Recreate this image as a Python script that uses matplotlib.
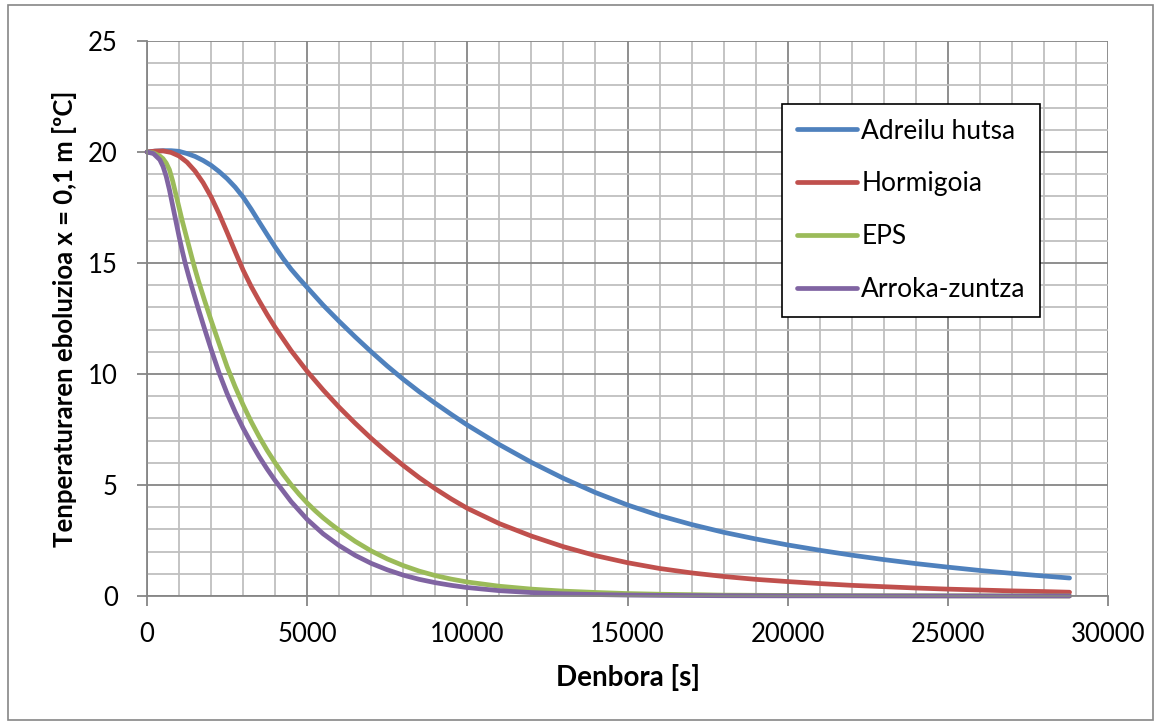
import numpy as np
import matplotlib.pyplot as plt
from matplotlib.patches import Rectangle
from matplotlib.ticker import MultipleLocator

plt.rcParams['font.family'] = ['Lato', 'DejaVu Sans']

# Temperature at x = 0.1 m over time, for four wall materials
t_adreilu = [0, 250, 500, 750, 1000, 1250, 1500, 1750, 2000, 2250, 2500, 2750, 3000, 3250,
             3500, 3750, 4000, 4250, 4500, 4750, 5000, 5500, 6000, 6500, 7000, 7500, 8000,
             8500, 9000, 9500, 10000, 11000, 12000, 13000, 14000, 15000, 16000, 17000,
             18000, 19000, 20000, 21000, 22000, 23000, 24000, 25000, 26000, 27000, 28000, 28800]
T_adreilu = [20.0, 20.04, 20.06, 20.06, 20.03, 19.93, 19.8, 19.62, 19.4, 19.12, 18.8, 18.42, 17.97, 17.43,
             16.85, 16.28, 15.72, 15.2, 14.72, 14.3, 13.9, 13.1, 12.37, 11.67, 11.0, 10.36, 9.76,
             9.2, 8.68, 8.18, 7.7, 6.82, 6.02, 5.3, 4.66, 4.1, 3.62, 3.22,
             2.87, 2.57, 2.3, 2.06, 1.84, 1.64, 1.46, 1.3, 1.15, 1.02, 0.9, 0.81]

t_hormigoia = [0, 250, 500, 750, 1000, 1250, 1500, 1750, 2000, 2250, 2500, 2750, 3000, 3250,
               3500, 3750, 4000, 4500, 5000, 5500, 6000, 6500, 7000, 7500, 8000, 8500, 9000,
               9500, 10000, 11000, 12000, 13000, 14000, 15000, 16000, 17000, 18000, 19000,
               20000, 21000, 22000, 23000, 24000, 25000, 26000, 27000, 28000, 28800]
T_hormigoia = [20.0, 20.04, 20.05, 19.98, 19.82, 19.54, 19.14, 18.62, 17.98, 17.22, 16.38, 15.52, 14.68, 13.95,
               13.3, 12.68, 12.1, 11.05, 10.12, 9.28, 8.5, 7.78, 7.1, 6.47, 5.88, 5.33, 4.83,
               4.37, 3.95, 3.26, 2.7, 2.22, 1.82, 1.5, 1.24, 1.04, 0.88, 0.75,
               0.65, 0.56, 0.48, 0.42, 0.36, 0.31, 0.27, 0.23, 0.2, 0.17]

t_eps = [0, 200, 400, 500, 600, 700, 800, 900, 1000, 1100, 1200, 1300, 1400, 1500, 1600, 1800,
         2000, 2250, 2500, 2750, 3000, 3250, 3500, 3750, 4000, 4250, 4500, 4750, 5000, 5250,
         5500, 5750, 6000, 6500, 7000, 7500, 8000, 8500, 9000, 9500, 10000, 11000, 12000,
         13000, 14000, 15000, 16000, 17000, 18000, 20000, 22000, 24000, 26000, 28800]
T_eps = [20.0, 19.96, 19.82, 19.7, 19.5, 19.2, 18.7, 18.1, 17.5, 16.9, 16.35, 15.8, 15.25, 14.72, 14.22, 13.3,
         12.42, 11.37, 10.33, 9.43, 8.61, 7.86, 7.18, 6.56, 6.0, 5.48, 5.01, 4.58, 4.19, 3.84,
         3.52, 3.23, 2.96, 2.46, 2.03, 1.67, 1.37, 1.12, 0.92, 0.76, 0.63, 0.44, 0.31,
         0.22, 0.16, 0.11, 0.08, 0.06, 0.04, 0.025, 0.015, 0.01, 0.005, 0.0]

t_arroka = [0, 200, 400, 500, 600, 700, 800, 900, 1000, 1100, 1200, 1300, 1400, 1500, 1600, 1800,
            2000, 2250, 2500, 2750, 3000, 3250, 3500, 3750, 4000, 4500, 5000, 5500, 6000, 6500,
            7000, 7500, 8000, 8500, 9000, 9500, 10000, 11000, 12000, 13000, 14000, 15000, 16000,
            18000, 20000, 24000, 28800]
T_arroka = [20.0, 19.93, 19.65, 19.35, 18.9, 18.3, 17.6, 16.9, 16.2, 15.55, 14.95, 14.42, 13.92, 13.43, 12.95, 12.02,
            11.12, 10.05, 9.12, 8.3, 7.56, 6.9, 6.28, 5.72, 5.2, 4.25, 3.45, 2.8, 2.27, 1.83,
            1.47, 1.18, 0.94, 0.75, 0.6, 0.48, 0.38, 0.24, 0.155, 0.1, 0.065, 0.042, 0.028,
            0.012, 0.006, 0.002, 0.0]

series = [
    ("Adreilu hutsa", t_adreilu, T_adreilu, "#4F81BD"),
    ("Hormigoia", t_hormigoia, T_hormigoia, "#C0504D"),
    ("EPS", t_eps, T_eps, "#9BBB59"),
    ("Arroka-zuntza", t_arroka, T_arroka, "#8064A2"),
]

W, H = 1161, 726
fig = plt.figure(figsize=(W / 100, H / 100), dpi=100)
ax = fig.add_axes([147 / W, 1 - 596 / H, (1108 - 147) / W, (596 - 41) / H])

for name, t, T, c in series:
    ax.plot(t, T, color=c, lw=3.4, label=name, solid_capstyle='round',
            solid_joinstyle='round', clip_on=False)

ax.set_xlim(0, 30000)
ax.set_ylim(0, 25)
ax.xaxis.set_major_locator(MultipleLocator(5000))
ax.xaxis.set_minor_locator(MultipleLocator(1000))
ax.yaxis.set_major_locator(MultipleLocator(5))
ax.yaxis.set_minor_locator(MultipleLocator(1))

ax.grid(which='minor', color='#BFBFBF', lw=1.3)
ax.grid(which='major', color='#868686', lw=1.3)
ax.set_axisbelow(True)

for s in ['top', 'right']:
    ax.spines[s].set_visible(False)
for s in ['left', 'bottom']:
    ax.spines[s].set_color('#868686')
    ax.spines[s].set_linewidth(1.3)

ax.tick_params(which='major', length=7, width=1.3, color='#868686', labelsize=18.5)
ax.tick_params(axis='x', which='major', pad=12)
ax.tick_params(axis='y', which='major', pad=14)
ax.tick_params(which='minor', length=0)

ax.set_xlabel("Denbora [s]", fontsize=20, fontweight='bold', labelpad=12)
ax.set_ylabel("Tenperaturaren eboluzioa x = 0,1 m [ºC]", fontsize=18.5,
              fontweight='bold', labelpad=8)

leg = ax.legend(loc='upper left', bbox_to_anchor=(782 / W, 1 - 104 / H),
                bbox_transform=fig.transFigure, fontsize=19, frameon=True,
                fancybox=False, edgecolor='black', framealpha=1,
                handlelength=2.3, handletextpad=0.15, labelspacing=1.06,
                borderpad=0.55, borderaxespad=0)
leg.get_frame().set_linewidth(1.2)

# chart outline
fig.patches.append(Rectangle((8 / W, 1 - 720 / H), (1153 - 8) / W, (720 - 5) / H,
                             transform=fig.transFigure, fill=False,
                             edgecolor='#868686', lw=1.2))

fig.savefig("out.png", dpi=100)
